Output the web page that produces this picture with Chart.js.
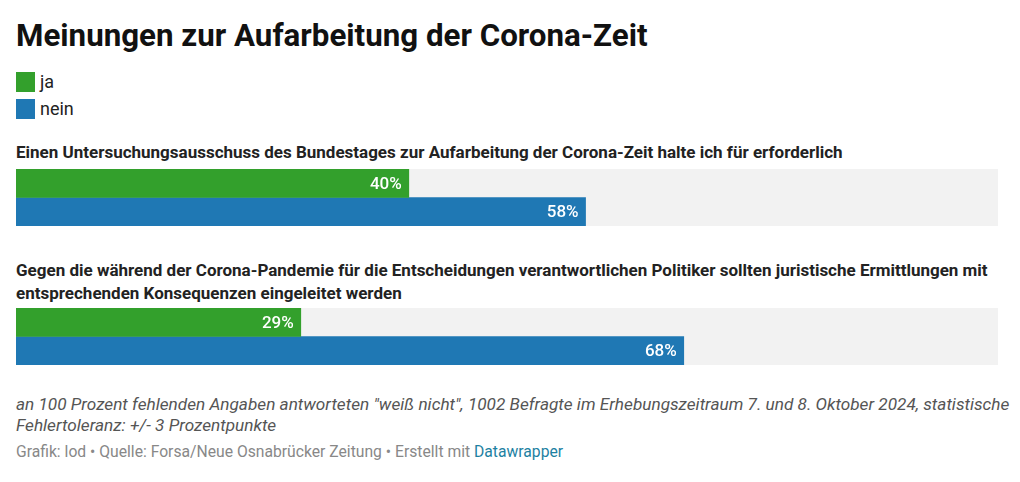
<!DOCTYPE html>
<html lang="de">
<head>
<meta charset="utf-8">
<title>Meinungen zur Aufarbeitung der Corona-Zeit</title>
<script src="https://cdn.jsdelivr.net/npm/chart.js@4.4.1/dist/chart.umd.min.js"></script>
<style>
  body { margin: 0; background: #fff; font-family: Roboto, "Noto Sans", sans-serif; color: #222; }
  .abs { position: absolute; left: 16px; white-space: nowrap; }
  #title { top: 16px; font-size: 31.3px; font-weight: 700; color: #111; line-height: 40px; }
  .legend { font-size: 18px; line-height: 20px; display: flex; align-items: center; }
  .legend span.sw { display: inline-block; width: 19px; height: 20px; margin-right: 5px; }
  .q { font-size: 17px; font-weight: 700; line-height: 23px; white-space: normal; width: 1000px; color: #222; }
  .plot { position: absolute; left: 16px; width: 982px; height: 57px; }
  #notes { top: 394px; font-size: 17.2px; font-style: italic; color: #555; line-height: 21px; white-space: normal; width: 1002px; }
  #footer { top: 442px; font-size: 15.7px; color: #888; line-height: 20px; }
  #footer a { color: #1d81a2; text-decoration: none; }
</style>
</head>
<body>
<div id="title" class="abs">Meinungen zur Aufarbeitung der Corona-Zeit</div>
<div class="abs legend" style="top:72px"><span class="sw" style="background:#33a02c"></span>ja</div>
<div class="abs legend" style="top:99px"><span class="sw" style="background:#1f78b4"></span>nein</div>

<div class="abs q" id="q0" style="top:141px"></div>
<div class="plot" style="top:169px"><canvas id="c0"></canvas></div>

<div class="abs q" id="q1" style="top:259px"></div>
<div class="plot" style="top:308px"><canvas id="c1"></canvas></div>

<div id="notes" class="abs">an 100 Prozent fehlenden Angaben antworteten "weiß nicht", 1002 Befragte im Erhebungszeitraum 7. und 8. Oktober 2024, statistische Fehlertoleranz: +/- 3 Prozentpunkte</div>
<div id="footer" class="abs">Grafik: lod • Quelle: Forsa/Neue Osnabrücker Zeitung • Erstellt mit <a href="#">Datawrapper</a></div>

<script>
const questions = [
  'Einen Untersuchungsausschuss des Bundestages zur Aufarbeitung der Corona-Zeit halte ich für erforderlich',
  'Gegen die während der Corona-Pandemie für die Entscheidungen verantwortlichen Politiker sollten juristische Ermittlungen mit entsprechenden Konsequenzen eingeleitet werden'
];
const jaValues = [40, 29];
const neinValues = [58, 68];
const seriesNames = ['ja', 'nein'];
const seriesColors = ['#33a02c', '#1f78b4'];

// grey background track behind the bars
const trackPlugin = {
  id: 'track',
  beforeDatasetsDraw(chart) {
    const { ctx, chartArea } = chart;
    ctx.save();
    ctx.fillStyle = '#f2f2f2';
    ctx.fillRect(chartArea.left, chartArea.top, chartArea.right - chartArea.left, chartArea.bottom - chartArea.top);
    ctx.restore();
  }
};

// percent labels inside the bar ends
const valueLabels = {
  id: 'valueLabels',
  afterDatasetsDraw(chart) {
    const { ctx } = chart;
    ctx.save();
    ctx.font = '500 17px Roboto, "Noto Sans", sans-serif';
    ctx.fillStyle = '#fff';
    ctx.textAlign = 'right';
    ctx.textBaseline = 'middle';
    chart.data.datasets.forEach((ds, i) => {
      chart.getDatasetMeta(i).data.forEach((bar, j) => {
        ctx.fillText(ds.data[j] + '%', bar.x - 7, bar.y + 1);
      });
    });
    ctx.restore();
  }
};

questions.forEach((q, i) => {
  document.getElementById('q' + i).textContent = q;
  const ctx = document.getElementById('c' + i).getContext('2d');
  new Chart(ctx, {
    type: 'bar',
    data: {
      labels: [q],
      datasets: [
        { label: seriesNames[0], data: [jaValues[i]], backgroundColor: seriesColors[0] },
        { label: seriesNames[1], data: [neinValues[i]], backgroundColor: seriesColors[1] }
      ]
    },
    options: {
      indexAxis: 'y',
      responsive: true,
      maintainAspectRatio: false,
      animation: false,
      layout: { padding: 0 },
      datasets: { bar: { categoryPercentage: 1, barPercentage: 1, borderWidth: 0 } },
      scales: {
        x: { min: 0, max: 100, display: false },
        y: { display: false }
      },
      plugins: {
        legend: { display: false },
        tooltip: { enabled: false }
      }
    },
    plugins: [trackPlugin, valueLabels]
  });
});
</script>
</body>
</html>
